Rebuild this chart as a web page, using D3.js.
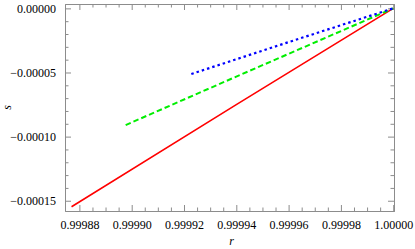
<!DOCTYPE html>
<html>
<head>
<meta charset="utf-8">
<script src="https://cdn.jsdelivr.net/npm/d3@7"></script>
<style>
  body { margin: 0; background: #fff; }
  svg text { font-family: "Times New Roman", "Liberation Serif", Times, serif; fill: #000; }
</style>
</head>
<body>
<script>
// series (r, s)
const redR = [0.999877, 0.99994, 1.0];
const redS = [-0.0001547, -0.0000751, 0.0];
const greenR = [0.9998977, 0.99994, 1.0];
const greenS = [-0.0000910, -0.0000532, 0.0];
const blueR = [0.9999228, 0.99996, 1.0];
const blueS = [-0.0000512, -0.0000263, 0.0];

const xTicks = [0.99988, 0.99990, 0.99992, 0.99994, 0.99996, 0.99998, 1.00000];
const yTicks = [-0.00015, -0.00010, -0.00005, 0.00000];
const xDomain = [0.9998745, 1.0000003];
const yDomain = [-0.000158, 0.0000034];

const width = 415, height = 249;
const margin = { top: 4, right: 21, bottom: 38, left: 65 };

const svg = d3.select("body").append("svg").attr("width", width).attr("height", height);

const x = d3.scaleLinear().domain(xDomain).range([margin.left, width - margin.right]);
const y = d3.scaleLinear().domain(yDomain).range([height - margin.bottom, margin.top]);

const fmt = d3.format(".5f");
const gray = "#8c8c8c";

// minor ticks
const xMinor = d3.range(0, 25).map(i => 0.99988 + i * 0.000005).filter(v => !xTicks.some(t => Math.abs(t - v) < 1e-9));
const yMinor = d3.range(0, 16).map(i => -0.00015 + i * 0.00001).filter(v => !yTicks.some(t => Math.abs(t - v) < 1e-12));

function axis(gen, scale, major, minor, transform, labels) {
  const g = svg.append("g").attr("transform", transform).attr("font-family", null);
  g.call(gen(scale).tickValues(major).tickSize(-6).tickPadding(labels ? 9 : 0).tickFormat(labels ? fmt : ""));
  g.append("g").call(gen(scale).tickValues(minor).tickSize(-3.5).tickFormat(""))
    .call(a => a.select(".domain").remove());
  g.attr("font-family", null);
  g.selectAll(".domain").attr("stroke", gray);
  g.selectAll(".tick line").attr("stroke", gray);
  g.selectAll("text").attr("font-size", 12);
  return g;
}

axis(d3.axisBottom, x, xTicks, xMinor, `translate(0,${height - margin.bottom})`, true);
axis(d3.axisTop, x, xTicks, xMinor, `translate(0,${margin.top})`, false);
axis(d3.axisLeft, y, yTicks, yMinor, `translate(${margin.left},0)`, true);
axis(d3.axisRight, y, yTicks, yMinor, `translate(${width - margin.right},0)`, false);

// curves
const line = d3.line().x(d => x(d[0])).y(d => y(d[1]));
const series = [
  { r: redR, s: redS, color: "#ff0000", dash: null, w: 1.6 },
  { r: greenR, s: greenS, color: "#00ee00", dash: "5.5,3", w: 2 },
  { r: blueR, s: blueS, color: "#0000ff", dash: "2.5,3", w: 2.2 }
];
svg.append("g").selectAll("path")
  .data(series)
  .join("path")
  .attr("fill", "none")
  .attr("stroke", d => d.color)
  .attr("stroke-width", d => d.w)
  .attr("stroke-dasharray", d => d.dash)
  .attr("d", d => line(d.r.map((v, i) => [v, d.s[i]])));

// axis labels
svg.append("text")
  .attr("x", (margin.left + width - margin.right) / 2 + 2)
  .attr("y", 245)
  .attr("text-anchor", "middle")
  .attr("font-size", 12)
  .attr("font-style", "italic")
  .text("r");

svg.append("text")
  .attr("transform", `translate(11,${(margin.top + height - margin.bottom) / 2}) rotate(-90)`)
  .attr("text-anchor", "middle")
  .attr("font-size", 12)
  .attr("font-style", "italic")
  .text("s");
</script>
</body>
</html>
